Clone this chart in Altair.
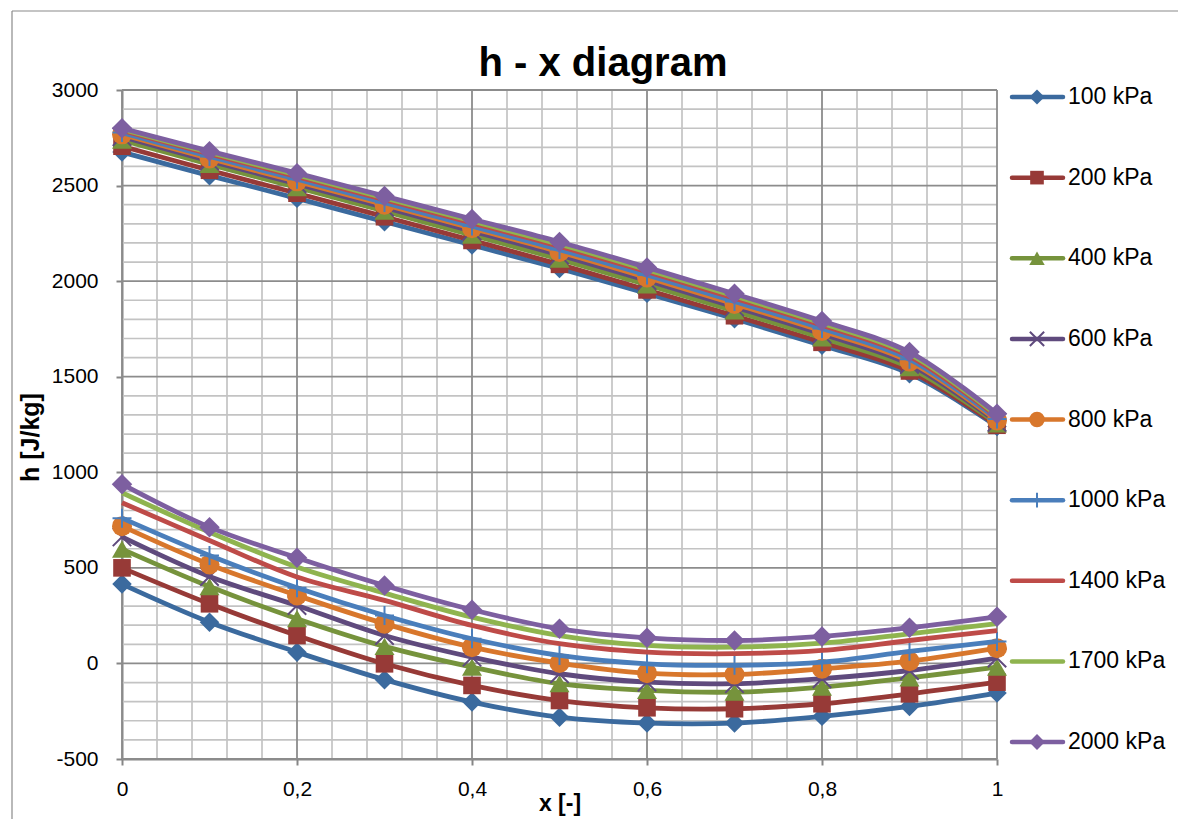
import altair as alt
import pandas as pd

# ---------------- data ----------------
X = [0, 0.1, 0.2, 0.3, 0.4, 0.5, 0.6, 0.7, 0.8, 0.9, 1.0]

SERIES = ["100 kPa", "200 kPa", "400 kPa", "600 kPa", "800 kPa",
          "1000 kPa", "1400 kPa", "1700 kPa", "2000 kPa"]
COLORS = ["#3B6A9E", "#973A37", "#76933C", "#5F4A7D", "#D8772C",
          "#4A7EBB", "#BE4B48", "#8FB44F", "#7D5FA0"]

# upper branch (h, J/kg)
UP_100 = [2675, 2552, 2433, 2311, 2189, 2066, 1936, 1803, 1664, 1516, 1240]
UP_200 = [2706, 2580, 2460, 2337, 2213, 2088, 1954, 1819, 1680, 1530, 1246]
UP_400 = [2738, 2611, 2490, 2366, 2241, 2115, 1981, 1844, 1703, 1548, 1254]
UP_600 = [2756, 2629, 2509, 2386, 2262, 2137, 2003, 1865, 1723, 1565, 1262]
UP_800 = [2768, 2642, 2522, 2400, 2277, 2153, 2019, 1881, 1739, 1579, 1271]
UP_1000 = [2777, 2652, 2533, 2411, 2288, 2165, 2032, 1894, 1752, 1591, 1279]
UP_1400 = [2789, 2665, 2547, 2426, 2304, 2182, 2049, 1911, 1769, 1607, 1290]
UP_1700 = [2795, 2673, 2556, 2436, 2315, 2193, 2060, 1922, 1780, 1618, 1298]
UP_2000 = [2800, 2680, 2565, 2445, 2325, 2205, 2072, 1934, 1791, 1629, 1306]

# lower branch (h, J/kg)
LO_100 = [415, 216, 59, -85, -202, -281, -312, -312, -277, -225, -155]
LO_200 = [500, 312, 146, -2, -115, -194, -232, -237, -211, -159, -98]
LO_400 = [598, 402, 234, 89, -19, -106, -141, -150, -124, -75, -19]
LO_600 = [662, 455, 303, 146, 33, -54, -98, -106, -80, -37, 28]
LO_800 = [718, 518, 356, 208, 85, 2, -51, -58, -28, 12, 80]
LO_1000 = [760, 565, 396, 251, 129, 42, -2, -10, 7, 63, 115]
LO_1400 = [841, 643, 452, 330, 199, 103, 59, 51, 68, 120, 172]
LO_1700 = [893, 687, 504, 368, 242, 146, 94, 85, 106, 155, 208]
LO_2000 = [938, 713, 553, 408, 281, 181, 134, 120, 141, 187, 244]

UPPER = [UP_100, UP_200, UP_400, UP_600, UP_800, UP_1000, UP_1400, UP_1700, UP_2000]
LOWER = [LO_100, LO_200, LO_400, LO_600, LO_800, LO_1000, LO_1400, LO_1700, LO_2000]

X_MAJOR = [0, 0.2, 0.4, 0.6, 0.8, 1.0]
X_MINOR = [0.04, 0.08, 0.12, 0.16, 0.24, 0.28, 0.32, 0.36, 0.44, 0.48,
           0.52, 0.56, 0.64, 0.68, 0.72, 0.76, 0.84, 0.88, 0.92, 0.96]
Y_MAJOR = [-500, 0, 500, 1000, 1500, 2000, 2500, 3000]
Y_MINOR = [v for v in range(-400, 3000, 100) if v % 500 != 0]

TITLE = "h - x diagram"

# marker style per series: (shape, filled, plot size, stroke width)
X_PATH = "M-1,-1L1,1M-1,1L1,-1"
PLUS_PATH = "M0,-1L0,1M-1,0L1,0"
MARKERS = {
    "100 kPa": ("diamond", True, 380, 1),
    "200 kPa": ("square", True, 310, 1),
    "400 kPa": ("triangle-up", True, 400, 1),
    "600 kPa": (X_PATH, False, 340, 2),
    "800 kPa": ("circle", True, 400, 1),
    "1000 kPa": (PLUS_PATH, False, 360, 2),
    "1400 kPa": None,
    "1700 kPa": None,
    "2000 kPa": ("diamond", True, 420, 1),
}

FONT = "Liberation Sans"

rows = []
for s, up, lo in zip(SERIES, UPPER, LOWER):
    for xv, hv in zip(X, up):
        rows.append({"series": s, "branch": "upper", "x": xv, "h": hv})
    for xv, hv in zip(X, lo):
        rows.append({"series": s, "branch": "lower", "x": xv, "h": hv})
df = pd.DataFrame(rows)

# ---------------- scales / axes ----------------
xs = alt.Scale(domain=[0, 1], nice=False, zero=False)
ys = alt.Scale(domain=[-500, 3000], nice=False, zero=False)
cs = alt.Scale(domain=SERIES, range=COLORS)

X_AXIS = alt.Axis(values=X_MAJOR, format=".1~f",
                  labelExpr="replace(datum.label, '.', ',')",
                  grid=False, domainColor="#868686", domainWidth=2,
                  tickColor="#868686", tickWidth=2, tickSize=6,
                  labelFont=FONT, labelFontSize=21, labelColor="black",
                  labelPadding=13, labelFlush=False,
                  title="x [-]", titleFont=FONT, titleFontSize=23,
                  titleFontWeight="bold", titleColor="black",
                  titleY=44, titleBaseline="middle")
Y_AXIS = alt.Axis(values=Y_MAJOR, format="d",
                  labelExpr="replace(datum.label, '\u2212', '-')",
                  grid=False,
                  domainColor="#868686", domainWidth=2,
                  tickColor="#868686", tickWidth=2, tickSize=6,
                  labelFont=FONT, labelFontSize=21, labelColor="black",
                  labelPadding=18, labelFlush=False,
                  title="h [J/kg]", titleFont=FONT, titleFontSize=25,
                  titleFontWeight="bold", titleColor="black",
                  titleAngle=-90, titleX=-92, titleY=347,
                  titleAlign="center", titleBaseline="middle")

XE = alt.X("x:Q", scale=xs, axis=X_AXIS)
YE = alt.Y("h:Q", scale=ys, axis=Y_AXIS)

layers = []
layers.append(alt.Chart(pd.DataFrame({"x": X_MINOR})).mark_rule(
    color="#c3c3c3", strokeWidth=1.7).encode(x=XE))
layers.append(alt.Chart(pd.DataFrame({"h": Y_MINOR})).mark_rule(
    color="#c3c3c3", strokeWidth=1.7).encode(y=YE))
layers.append(alt.Chart(pd.DataFrame({"x": X_MAJOR})).mark_rule(
    color="#8c8c8c", strokeWidth=1.8).encode(x=XE))
layers.append(alt.Chart(pd.DataFrame({"h": Y_MAJOR})).mark_rule(
    color="#8c8c8c", strokeWidth=1.8).encode(y=YE))

for s in SERIES:
    d = df[df.series == s]
    layers.append(alt.Chart(d).mark_line(strokeWidth=4.8, interpolate="catmull-rom").encode(
        x=XE, y=YE,
        color=alt.Color("series:N", scale=cs, legend=None),
        detail="branch:N"))
    m = MARKERS[s]
    if m:
        shape, filled, size, sw = m
        layers.append(alt.Chart(d).mark_point(
            shape=shape, filled=filled, size=size, strokeWidth=sw, opacity=1).encode(
            x=XE, y=YE,
            color=alt.Color("series:N", scale=cs, legend=None)))

main = alt.layer(*layers)

# ---------------- legend, title, frame ----------------
leg_df = pd.DataFrame({"series": SERIES, "idx": list(range(len(SERIES)))})
LY = alt.Y("idx:Q", scale=alt.Scale(domain=[0, 8], range=[7, 652]), axis=None)
leg_layers = []
leg_layers.append(alt.Chart(leg_df).mark_rule(strokeWidth=4.5, strokeCap="round").encode(
    x=alt.value(890), x2=alt.value(941), y=LY,
    color=alt.Color("series:N", scale=cs, legend=None)))
for s in SERIES:
    m = MARKERS[s]
    if m:
        shape, filled, size, sw = m
        leg_layers.append(alt.Chart(leg_df[leg_df.series == s]).mark_point(
            shape=shape, filled=filled, size=int(size * 0.6), strokeWidth=sw, opacity=1).encode(
            x=alt.value(915), y=LY,
            color=alt.Color("series:N", scale=cs, legend=None)))
leg_layers.append(alt.Chart(leg_df).mark_text(
    align="left", baseline="middle", font=FONT, fontSize=23, color="black").encode(
    x=alt.value(946), y=LY, text="series:N"))

one = pd.DataFrame({"t": [TITLE]})
leg_layers.append(alt.Chart(one).mark_text(
    align="center", baseline="alphabetic", font=FONT, fontSize=40,
    fontWeight="bold", color="black").encode(
    x=alt.value(481), y=alt.value(-14), text="t:N"))

# outer chart border
leg_layers.append(alt.Chart(one).mark_rule(color="#8a8a8a", strokeWidth=1.2).encode(
    x=alt.value(-110), y=alt.value(-79), y2=alt.value(740)))
leg_layers.append(alt.Chart(one).mark_rule(color="#8a8a8a", strokeWidth=1.2).encode(
    x=alt.value(-110), x2=alt.value(1060), y=alt.value(-79)))

legend = alt.layer(*leg_layers)

chart = alt.layer(main, legend).resolve_scale(y="independent").properties(
    width=875, height=669,
    autosize=alt.AutoSizeParams(type="none"),
    padding={"left": 114, "top": 82, "right": 181, "bottom": 60},
).configure_view(stroke=None)

chart.save("out.html", embed_options={"renderer": "svg", "actions": False})
